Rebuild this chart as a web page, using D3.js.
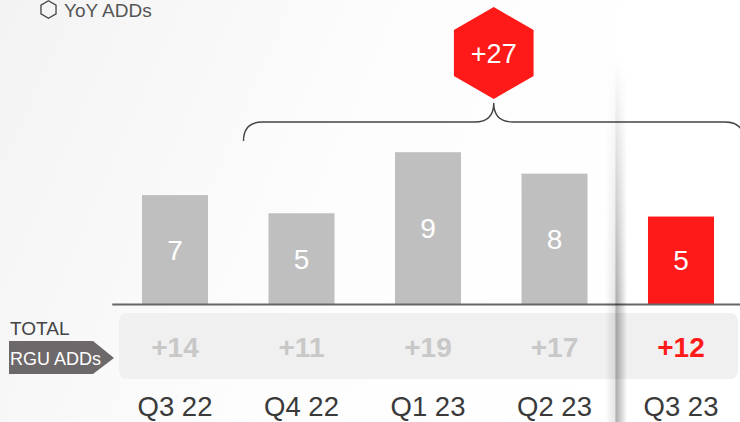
<!DOCTYPE html>
<html>
<head>
<meta charset="utf-8">
<script src="https://cdn.jsdelivr.net/npm/d3@7"></script>
<style>
  html, body { margin: 0; padding: 0; background: #fff; }
  svg { display: block; font-family: "Liberation Sans", Arial, sans-serif; }
</style>
</head>
<body>
<svg id="chart" width="740" height="422"></svg>
<script>
// quarterly data
var quarters = ["Q3 22", "Q4 22", "Q1 23", "Q2 23", "Q3 23"];
var yoyAdds = [6.6, 5.5, 9.2, 7.9, 5.3];
var yoyLabels = ["7", "5", "9", "8", "5"];
var totalRgu = ["+14", "+11", "+19", "+17", "+12"];
var bracketTotal = "+27";

var RED = "#ff1a1a", GREY = "#bfbfbf";

var svg = d3.select("#chart");
var width = 740, height = 422;
var baseY = 304;

var defs = svg.append("defs");

// soft grey wash on the left of the slide
var bg = defs.append("linearGradient").attr("id", "bg")
    .attr("x1", "0").attr("y1", "0").attr("x2", "1").attr("y2", "0.25");
bg.append("stop").attr("offset", "0").attr("stop-color", "#f3f3f3");
bg.append("stop").attr("offset", "0.55").attr("stop-color", "#fdfdfd");
bg.append("stop").attr("offset", "1").attr("stop-color", "#ffffff");
svg.append("rect").attr("width", width).attr("height", height).attr("fill", "url(#bg)");
svg.append("rect").attr("x", 618).attr("width", width - 618).attr("height", height).attr("fill", "#fff");

// shadow strip
var sh = defs.append("linearGradient").attr("id", "sh");
sh.append("stop").attr("offset", "0").attr("stop-color", "#000").attr("stop-opacity", 0);
sh.append("stop").attr("offset", "0.45").attr("stop-color", "#000").attr("stop-opacity", 0.1);
sh.append("stop").attr("offset", "0.5").attr("stop-color", "#000").attr("stop-opacity", 0.32);
sh.append("stop").attr("offset", "1").attr("stop-color", "#000").attr("stop-opacity", 0);
var fade = defs.append("linearGradient").attr("id", "fade")
    .attr("x1", "0").attr("y1", "0").attr("x2", "0").attr("y2", "1");
fade.append("stop").attr("offset", "0").attr("stop-color", "#fff").attr("stop-opacity", 0);
fade.append("stop").attr("offset", "0.65").attr("stop-color", "#fff").attr("stop-opacity", 1);
fade.append("stop").attr("offset", "1").attr("stop-color", "#fff").attr("stop-opacity", 1);
defs.append("mask").attr("id", "shmask")
  .append("rect").attr("x", 600).attr("y", 60).attr("width", 40).attr("height", height - 60)
    .attr("fill", "url(#fade)");

var x = d3.scaleBand()
    .domain(quarters)
    .range([111.75, 744.25])
    .paddingInner(0.478)
    .paddingOuter(0.239);

var y = d3.scaleLinear()
    .domain([0, 10])
    .range([baseY, baseY - 165]);

// legend
var hex = function(cx, cy, r) {
  return d3.range(6).map(function(i) {
    var a = Math.PI / 3 * i - Math.PI / 2;
    return [cx + r * Math.cos(a), cy + r * Math.sin(a)];
  });
};
svg.append("polygon")
    .attr("points", hex(48.5, 9.5, 8.7).join(" "))
    .attr("fill", "none").attr("stroke", "#444").attr("stroke-width", 1.3);
svg.append("text").attr("x", 64).attr("y", 17)
    .attr("font-size", 19).attr("fill", "#555").text("YoY ADDs");

// total row band
svg.append("rect")
    .attr("x", 119).attr("y", 313).attr("width", 619).attr("height", 66)
    .attr("rx", 8).attr("fill", "#f0f0f0");

// bars
svg.selectAll("rect.bar")
  .data(yoyAdds)
  .enter().append("rect")
    .attr("class", "bar")
    .attr("x", function(d, i) { return x(quarters[i]); })
    .attr("y", function(d) { return y(d); })
    .attr("width", x.bandwidth())
    .attr("height", function(d) { return y(0) - y(d); })
    .attr("fill", function(d, i) { return i == quarters.length - 1 ? RED : GREY; });

svg.selectAll("text.val")
  .data(yoyAdds)
  .enter().append("text")
    .attr("class", "val")
    .attr("x", function(d, i) { return x(quarters[i]) + x.bandwidth() / 2; })
    .attr("y", function(d) { return (y(d) + y(0)) / 2; })
    .attr("dy", "0.36em")
    .attr("text-anchor", "middle")
    .attr("font-size", 28).attr("fill", "#fff")
    .text(function(d, i) { return yoyLabels[i]; });

// axis with quarter labels under the band
var axis = svg.append("g")
    .attr("transform", "translate(0," + baseY + ")")
    .call(d3.axisBottom(x).tickSize(0).tickPadding(92));
axis.select(".domain").attr("stroke", "#666").attr("stroke-width", 2);
axis.selectAll("text")
    .attr("font-family", "Liberation Sans, Arial, sans-serif")
    .attr("font-size", 27.5).attr("fill", "#3a3a3a");

// total RGU adds
svg.selectAll("text.tot")
  .data(totalRgu)
  .enter().append("text")
    .attr("class", "tot")
    .attr("x", function(d, i) { return x(quarters[i]) + x.bandwidth() / 2; })
    .attr("y", 357)
    .attr("text-anchor", "middle")
    .attr("font-size", 28).attr("font-weight", "bold")
    .attr("fill", function(d, i) { return i == quarters.length - 1 ? RED : "#c8c8c8"; })
    .text(function(d) { return d; });

// row label
svg.append("text").attr("x", 10).attr("y", 335)
    .attr("font-size", 19).attr("fill", "#444").text("TOTAL");
svg.append("path")
    .attr("d", "M9,341 L93,341 L114,358 L93,374 L9,374 Z")
    .attr("fill", "#6d6869");
svg.append("text").attr("x", 10).attr("y", 365)
    .attr("font-size", 18).attr("fill", "#fff").text("RGU ADDs");

// brace over the last four quarters
var bx0 = x(quarters[1]) - 25,
    bx1 = x(quarters[4]) + x.bandwidth() + 30,
    bm = (bx0 + bx1) / 2,
    by = 122, r = 19;
svg.append("path")
    .attr("d", "M" + bx0 + "," + (by + r) + " Q" + bx0 + "," + by + " " + (bx0 + r) + "," + by +
      " L" + (bm - r) + "," + by + " Q" + bm + "," + by + " " + bm + "," + (by - r) +
      " Q" + bm + "," + by + " " + (bm + r) + "," + by +
      " L" + (bx1 - r) + "," + by + " Q" + bx1 + "," + by + " " + bx1 + "," + (by + r))
    .attr("fill", "none").attr("stroke", "#444").attr("stroke-width", 1.4);

svg.append("polygon")
    .attr("points", hex(bm, 53, 46).join(" "))
    .attr("fill", RED);
svg.append("text").attr("x", bm).attr("y", 53).attr("dy", "0.36em")
    .attr("text-anchor", "middle").attr("font-size", 27).attr("fill", "#fff")
    .text(bracketTotal);

// panel shadow
svg.append("rect")
    .attr("x", 605).attr("y", 60).attr("width", 22).attr("height", height - 60)
    .attr("fill", "url(#sh)").attr("mask", "url(#shmask)");
</script>
</body>
</html>
